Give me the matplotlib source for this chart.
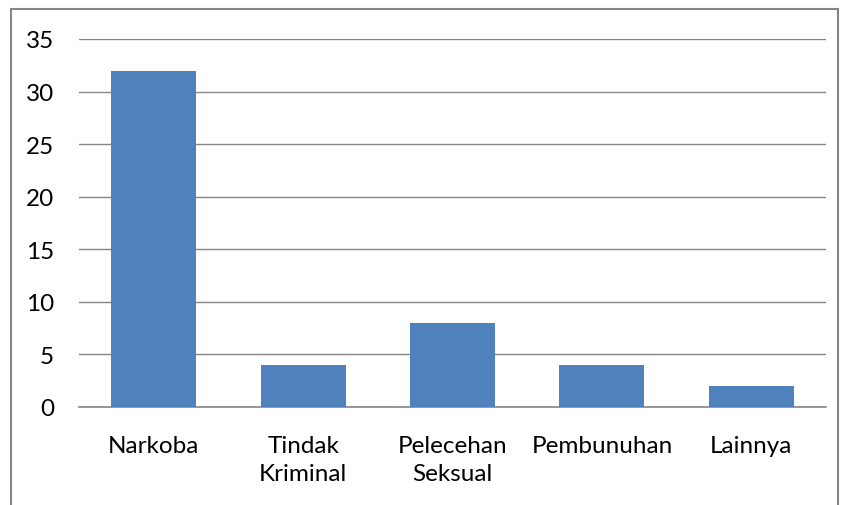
import matplotlib.pyplot as plt
from matplotlib.patches import Rectangle

# kasus per kategori
categories = ['Narkoba', 'Tindak\nKriminal', 'Pelecehan\nSeksual', 'Pembunuhan', 'Lainnya']
counts = [32, 4, 8, 4, 2]
yticks = [0, 5, 10, 15, 20, 25, 30, 35]

plt.rcParams['font.family'] = ['Lato', 'DejaVu Sans']

fig = plt.figure(figsize=(8.43, 5.06), dpi=100)
ax = fig.add_axes([79/843, 1 - 408/506, (826 - 79)/843, (408 - 40)/506])

ax.bar(range(len(categories)), counts, width=0.57, color='#4F81BD', zorder=3)
ax.set_xlim(-0.5, len(categories) - 0.5)
ax.set_ylim(0, 35)
ax.set_yticks(yticks)
ax.set_xticks(range(len(categories)))
ax.set_xticklabels(categories, fontsize=17.5, linespacing=1.45, va='top')
ax.tick_params(axis='y', labelsize=17.5, length=0, pad=18)
ax.tick_params(axis='x', length=0, pad=20)
ax.grid(axis='y', color='#868686', linewidth=1, zorder=0)
for side in ['top', 'right', 'left']:
    ax.spines[side].set_visible(False)
ax.spines['bottom'].set_color('#868686')
ax.spines['bottom'].set_linewidth(1.2)

# bingkai luar
frame = Rectangle((11/843, -0.1), (838 - 11)/843, 1.1 - 10/506, transform=fig.transFigure,
                  fill=False, edgecolor='#868686', linewidth=1.5)
fig.patches.append(frame)

fig.savefig('out.png', dpi=100)
